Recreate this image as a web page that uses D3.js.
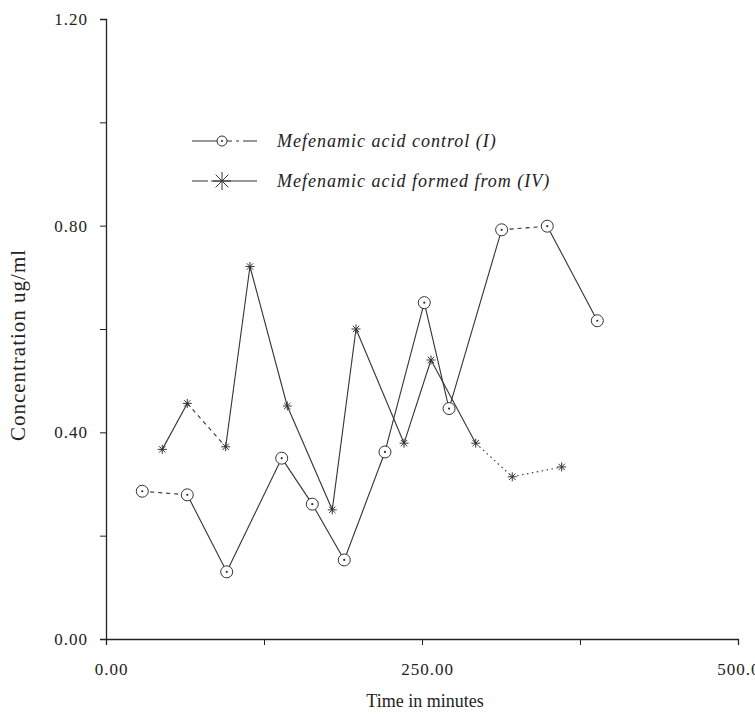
<!DOCTYPE html>
<html>
<head>
<meta charset="utf-8">
<script src="https://cdn.jsdelivr.net/npm/d3@7"></script>
<style>
  body { margin: 0; background: #fff; }
  text { font-family: "Liberation Serif", "DejaVu Serif", serif; fill: #222; }
</style>
</head>
<body>
<div class="chart"></div>
<script>
// data
var controlTime = [28.7, 64.3, 95.5, 139.0, 163.2, 188.5, 220.7, 251.8, 271.4, 313.0, 349.1, 388.7];
var controlConc = [0.286, 0.279, 0.130, 0.350, 0.261, 0.153, 0.362, 0.651, 0.446, 0.792, 0.799, 0.616];

var formedTime = [44.5, 64.3, 94.7, 113.9, 143.4, 179.0, 197.8, 235.8, 257.1, 292.5, 321.4, 360.5];
var formedConc = [0.367, 0.456, 0.372, 0.721, 0.451, 0.250, 0.600, 0.379, 0.540, 0.379, 0.314, 0.333];

var xTicks = [0, 125, 250, 375, 500];
var xTickLabels = ["0.00", "", "250.00", "", "500.00"];
var yTicks = [0, 0.2, 0.4, 0.6, 0.8, 1.0, 1.2];
var yTickLabels = ["0.00", "", "0.40", "", "0.80", "", "1.20"];

var legendNames = ["Mefenamic acid control (I)", "Mefenamic acid formed from (IV)"];

// segments that came out broken on the scan (index of first point)
var controlDashed = [0, 9];
var formedDashed = [1];
var formedDotted = [9, 10];

//*****************************************************
// chart set up
var svgWidth = 755;
var svgHeight = 715;

var svg = d3.select(".chart")
  .append("svg")
  .attr("width", svgWidth)
  .attr("height", svgHeight);

var xScale = d3.scaleLinear().domain([0, 500]).range([106, 738]);
var yScale = d3.scaleLinear().domain([0, 1.2]).range([639, 19]);

// axes
var bottomAxis = d3.axisBottom(xScale)
  .tickValues(xTicks)
  .tickSize(6)
  .tickFormat((d, i) => xTickLabels[i]);

var leftAxis = d3.axisLeft(yScale)
  .tickValues(yTicks)
  .tickSize(6)
  .tickFormat((d, i) => yTickLabels[i]);

var gx = svg.append("g")
  .attr("transform", `translate(0, ${yScale(0)})`)
  .call(bottomAxis);
gx.select(".domain").attr("stroke", "#222").attr("stroke-width", 1.3);
gx.selectAll(".tick line").attr("stroke", "#222");
gx.selectAll(".tick text")
  .attr("y", 24)
  .attr("x", 5)
  .attr("font-size", "17px")
  .attr("letter-spacing", "1px")
  .attr("font-family", "Liberation Serif");

var gy = svg.append("g")
  .attr("transform", `translate(${xScale(0)}, 0)`)
  .call(leftAxis);
gy.select(".domain").attr("stroke", "#222").attr("stroke-width", 1.3);
gy.selectAll(".tick line").attr("stroke", "#222");
gy.selectAll(".tick text")
  .attr("x", -18)
  .attr("font-size", "17px")
  .attr("letter-spacing", "1px")
  .attr("font-family", "Liberation Serif");

// axis titles
svg.append("text")
  .attr("transform", "translate(25, 345) rotate(-90)")
  .attr("text-anchor", "middle")
  .attr("font-size", "21px")
  .attr("letter-spacing", "1px")
  .text("Concentration ug/ml");

svg.append("text")
  .attr("x", 425)
  .attr("y", 707)
  .attr("text-anchor", "middle")
  .attr("font-size", "18px")
  .text("Time in minutes");

//*****************************************************
// series lines
function drawSegments(times, concs, dashed, dotted) {
  var pts = times.map((t, i) => ({ x: t, y: concs[i] }));
  var line = d3.line().x(d => xScale(d.x)).y(d => yScale(d.y));
  var segs = d3.pairs(pts);
  svg.append("g").selectAll("path")
    .data(segs)
    .enter()
    .append("path")
    .attr("d", d => line(d))
    .attr("fill", "none")
    .attr("stroke", "#333")
    .attr("stroke-width", 1.1)
    .attr("stroke-dasharray", function(d, i) {
      if (dashed.indexOf(i) >= 0) return "4,4";
      if (dotted.indexOf(i) >= 0) return "1.5,3.5";
      return null;
    });
  return pts;
}

function circleMark(g, cx, cy, r) {
  g.append("circle").attr("cx", cx).attr("cy", cy).attr("r", r)
    .attr("fill", "white").attr("stroke", "#333").attr("stroke-width", 1);
  g.append("circle").attr("cx", cx).attr("cy", cy).attr("r", 1.1).attr("fill", "#333");
}

function starMark(g, cx, cy, r) {
  [0, 45, 90, 135].forEach(a => {
    var rad = a * Math.PI / 180;
    g.append("line")
      .attr("x1", cx - r * Math.cos(rad)).attr("y1", cy - r * Math.sin(rad))
      .attr("x2", cx + r * Math.cos(rad)).attr("y2", cy + r * Math.sin(rad))
      .attr("stroke", "#333").attr("stroke-width", 1);
  });
}

var ctrlPts = drawSegments(controlTime, controlConc, controlDashed, []);
var formPts = drawSegments(formedTime, formedConc, formedDashed, formedDotted);

var markG = svg.append("g");
ctrlPts.forEach(d => circleMark(markG, xScale(d.x), yScale(d.y), 6));
formPts.forEach(d => starMark(markG, xScale(d.x), yScale(d.y), 4.5));

//*****************************************************
// legend
var legend = svg.append("g");
var legendY = [141, 181];
legendNames.forEach((name, i) => {
  legend.append("line")
    .attr("x1", 192).attr("x2", 257)
    .attr("y1", legendY[i]).attr("y2", legendY[i])
    .attr("stroke", "#333").attr("stroke-width", 1)
    .attr("stroke-dasharray", i == 0 ? "40,4,3,4" : "16,3,60");
  if (i == 0) {
    circleMark(legend, 222, legendY[i], 5);
  } else {
    starMark(legend, 222, legendY[i], 9);
  }
  legend.append("text")
    .attr("x", 277)
    .attr("y", legendY[i] + 6)
    .attr("font-size", "18px")
    .attr("font-style", "italic")
    .attr("letter-spacing", "1px")
    .text(name);
});
</script>
</body>
</html>
